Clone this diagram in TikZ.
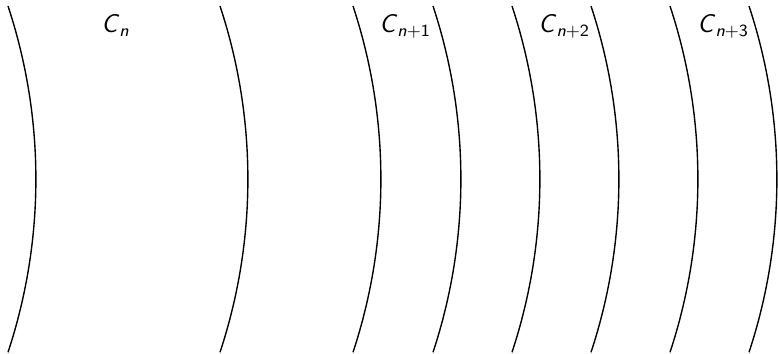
\documentclass[tikz,border=0pt]{standalone}
\usepackage{amsmath}
\usepackage{tikz}
\newcommand{\cellname}[1]{$\textsf{\textit{C}}_{\textsf{#1}}$}

\begin{document}
\begin{tikzpicture}[x=0.165mm,y=0.165mm,
  arcline/.style={line width=0.65pt},
  lab/.style={anchor=base west,inner sep=0pt,font=\large}]
\useasboundingbox (0,0) rectangle (778,354);
% the cell walls
\foreach \x in {8,220,353,433,512,591,670,749}
  \draw[arcline] (\x,348) arc[start angle=18.3,end angle=-18.3,radius=551.5];
\node[lab] (cn) at (101,321) {\cellname{\textit{n}}};
\node[lab] (cn1) at (379,321) {\cellname{\textit{n}+1}};
\node[lab] (cn2) at (538,321) {\cellname{\textit{n}+2}};
\node[lab] (cn3) at (697,321) {\cellname{\textit{n}+3}};
\end{tikzpicture}
\end{document}
